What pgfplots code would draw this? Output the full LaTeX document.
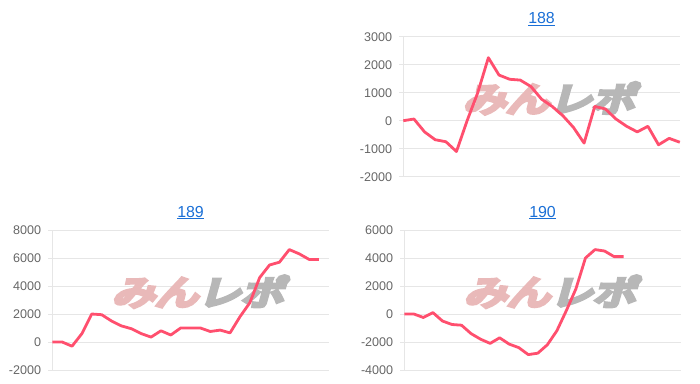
\documentclass[border=0pt]{standalone}
\usepackage{pgfplots}
\pgfplotsset{compat=1.18}
\usepackage{fontspec}
\setmainfont{Liberation Sans}
\newfontfamily\jp[FakeBold=12]{Noto Sans CJK JP}
\definecolor{linec}{HTML}{FF4F6E}
\definecolor{titlec}{HTML}{1A6FD6}
\definecolor{tickc}{HTML}{666666}
\definecolor{gridc}{HTML}{E6E6E6}
\definecolor{zeroc}{HTML}{C8C8C8}
\definecolor{wmpink}{HTML}{E9B9B9}
\definecolor{wmgray}{HTML}{B7B7B7}
\pgfplotsset{
  panel/.style={
    scale only axis,
    width=276.5bp, height=140bp,
    anchor=south west,
    axis x line=none,
    axis y line*=left,
    y axis line style={draw=gridc,-},
    every outer y axis line/.append style={-},
    xtick=\empty,
    ymajorgrids,
    major grid style={draw=gridc, line width=0.8bp},
    tick align=outside,
    major tick length=4bp,
    ytick style={draw=gridc, line width=0.8bp},
    yticklabel style={font=\fontsize{12.6}{12.6}\selectfont, text=tickc, inner sep=0pt, anchor=east, xshift=-7bp},
    /pgf/number format/assume math mode=true,
    /pgf/number format/1000 sep={},
    scaled y ticks=false,
    title style={font=\fontsize{16}{16}\selectfont, text=titlec, anchor=base, at={(0.5,1)}, yshift=7bp},
    extra y ticks={0},
    extra y tick labels={},
    extra y tick style={grid style={draw=zeroc, line width=0.8bp}, tick style={draw=zeroc}},
    clip=false,
  },
}
\newcommand{\wmark}{\node[inner sep=0pt, xscale=1.27, xslant=0.22, font=\jp\fontsize{34}{34}\selectfont] at (rel axis cs:0.54,0.56) {\textcolor{wmpink}{みん}\textcolor{wmgray}{レポ}};}
\begin{document}
\begin{tikzpicture}
\useasboundingbox (0bp,0bp) rectangle (700bp,384bp);
% 188
\begin{axis}[panel, at={(403.3bp,207.3bp)}, xmin=0, xmax=26, ymin=-2000, ymax=3000,
  ytick={-2000,-1000,0,1000,2000,3000}, title={\underline{188}}]
\wmark
\addplot[linec, line width=2.8bp, line join=round] coordinates {
(0,0) (1,60) (2,-400) (3,-680) (4,-750) (5,-1100) (6,0) (7,1000) (8,2250) (9,1630)
(10,1480) (11,1450) (12,1220) (13,770) (14,510) (15,180) (16,-240) (17,-800) (18,510)
(19,420) (20,60) (21,-200) (22,-400) (23,-200) (24,-860) (25,-630) (26,-770)};
\end{axis}
% 189
\begin{axis}[panel, at={(52.3bp,14bp)}, xmin=0, xmax=28, ymin=-2000, ymax=8000,
  ytick={-2000,0,2000,4000,6000,8000}, title={\underline{189}}]
\wmark
\addplot[linec, line width=2.8bp, line join=round] coordinates {
(0,0) (1,0) (2,-300) (3,600) (4,2000) (5,1950) (6,1500) (7,1150) (8,950) (9,600)
(10,350) (11,800) (12,500) (13,1000) (14,1000) (15,1000) (16,750) (17,850) (18,650)
(19,1800) (20,2800) (21,4600) (22,5500) (23,5700) (24,6600) (25,6300) (26,5900) (27,5900)};
\end{axis}
% 190
\begin{axis}[panel, at={(404.3bp,14bp)}, xmin=0, xmax=29, ymin=-4000, ymax=6000,
  ytick={-4000,-2000,0,2000,4000,6000}, title={\underline{190}}]
\wmark
\addplot[linec, line width=2.8bp, line join=round] coordinates {
(0,0) (1,0) (2,-250) (3,100) (4,-500) (5,-750) (6,-800) (7,-1400) (8,-1800) (9,-2100)
(10,-1700) (11,-2150) (12,-2400) (13,-2900) (14,-2800) (15,-2200) (16,-1200) (17,250)
(18,1800) (19,4000) (20,4600) (21,4500) (22,4100) (23,4100)};
\end{axis}
\end{tikzpicture}
\end{document}
